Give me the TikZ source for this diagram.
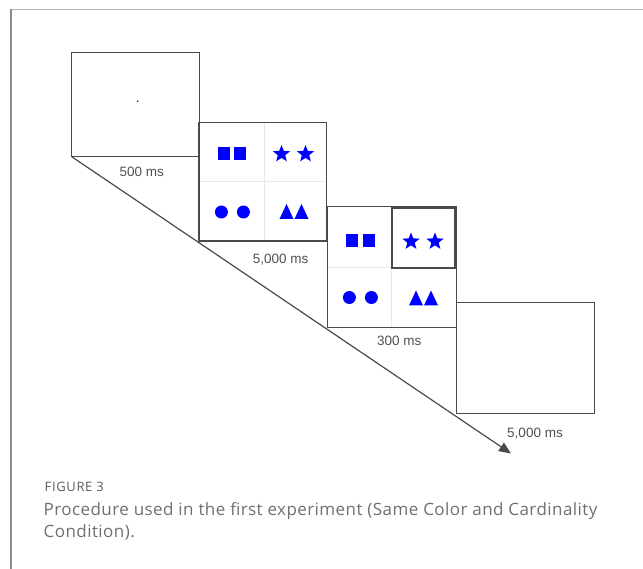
\documentclass[tikz,border=0pt]{standalone}
\usepackage{fontspec}
\setmainfont{Open Sans}
\newfontfamily\labelfont{Liberation Sans}
\newfontfamily\capfont[LetterSpace=2.6]{Open Sans}
\newfontfamily\figfont[LetterSpace=5]{Open Sans}
\usetikzlibrary{arrows.meta,shapes.geometric}
\definecolor{boxgray}{HTML}{4A4A4A}
\definecolor{gridgray}{HTML}{E8E8E8}
\definecolor{labgray}{HTML}{505050}
\definecolor{capgray}{HTML}{707070}
\definecolor{figgray}{HTML}{5C5C5C}
\definecolor{frametop}{HTML}{B8B8B8}
\definecolor{frameleft}{HTML}{8C8C8C}
\definecolor{shapeblue}{HTML}{0000FF}
\tikzset{
  screen/.style={draw=boxgray, line width=1.3pt, fill=white, inner sep=0pt, outer sep=0pt},
  gridline/.style={draw=gridgray, line width=0.8pt},
  durlabel/.style={font=\labelfont\fontsize{13.5}{15}\selectfont, text=labgray, inner sep=0pt},
  bluestar/.style={star, star points=5, star point ratio=2.3, fill=shapeblue, minimum size=18pt, inner sep=0pt},
  sqs/.pic={\fill[shapeblue] (-14.3,-6.3) rectangle (-2.3,6.3); \fill[shapeblue] (2.3,-6.3) rectangle (14.3,6.3);},
  sts/.pic={\node[bluestar] at (-12,0) {}; \node[bluestar] at (12,0) {};},
  cis/.pic={\fill[shapeblue] (-11,0) circle (6.5pt); \fill[shapeblue] (11,0) circle (6.5pt);},
  trs/.pic={\fill[shapeblue] (-15,7.5) -- (-8,-7.5) -- (-1,7.5) -- cycle; \fill[shapeblue] (0,7.5) -- (7,-7.5) -- (14,7.5) -- cycle;}
}
\begin{document}
\begin{tikzpicture}[x=1pt,y=-1pt]
\useasboundingbox (0,0) rectangle (643,569);
\fill[white] (0,0) rectangle (643,569);
% frame
\draw[frametop, line width=1.5pt] (10,9.5) -- (643,9.5);
\draw[frameleft, line width=1.2pt] (11,9.5) -- (11,569);
\coordinate (tip) at (511,453.5);
% screens
\node[screen, minimum width=127.6pt, minimum height=104pt] (b1) at (135.5,104.7) {};
\node[circle, fill=boxgray, inner sep=0pt, minimum size=2pt] (dot) at (137.7,101.3) {};
\node[screen, minimum width=127.5pt, minimum height=118.7pt] (b2) at (262.8,181.6) {};
\node[screen, minimum width=129.4pt, minimum height=121pt] (b3) at (392,267.2) {};
\node[screen, minimum width=137.6pt, minimum height=111pt] (b4) at (525.5,357.8) {};
% grids
\draw[gridline] (264,123) -- (264,240.3);
\draw[gridline] (199.7,181.7) -- (325.8,181.7);
\draw[gridline] (391.7,267.7) -- (391.7,327);
\draw[gridline] (328,267.7) -- (391.7,267.7);
\draw[gridline] (391.7,267.7) -- (456,267.7);
% redraw borders over grid
\draw[boxgray, line width=1.3pt] (b2.north west) rectangle (b2.south east);
\draw[boxgray, line width=1.3pt] (b3.north west) rectangle (b3.south east);
\draw[boxgray, line width=1.3pt] (b1.north east) -- (b1.south east);
% highlighted cell
\node[draw=boxgray, line width=2pt, minimum width=63.5pt, minimum height=60pt, inner sep=0pt] (hl) at (423.6,237.6) {};
% shapes box 2
\pic at (232,153.5) {sqs};
\pic at (293.5,154) {sts};
\pic at (232.4,212) {cis};
\pic at (294.5,211.5) {trs};
% shapes box 3
\pic at (360.5,240.5) {sqs};
\pic at (423,241.5) {sts};
\pic at (360.4,297.5) {cis};
\pic at (424,298) {trs};
% timeline
\draw[boxgray, line width=1.2pt, -{Triangle[length=12pt,width=10pt]}] (b1.south west) -- (tip);
% labels
\node[durlabel] (l1) at (141.7,171.7) {500 ms};
\node[durlabel] (l2) at (280.7,260) {5,000 ms};
\node[durlabel] (l3) at (399.3,340.7) {300 ms};
\node[durlabel] (l4) at (535,434) {5,000 ms};
% caption
\node[anchor=base west, inner sep=0pt, text=figgray, font=\figfont\fontsize{13}{14}\selectfont] (fig) at (44.5,491.5) {FIGURE 3};
\node[anchor=base west, inner sep=0pt, text=capgray, font=\capfont\fontsize{17}{22}\selectfont] (cap1) at (43.5,515) {Procedure used in the first experiment (Same Color and Cardinality};
\node[anchor=base west, inner sep=0pt, text=capgray, font=\capfont\fontsize{17}{22}\selectfont] (cap2) at (43.5,537) {Condition).};
\end{tikzpicture}
\end{document}
